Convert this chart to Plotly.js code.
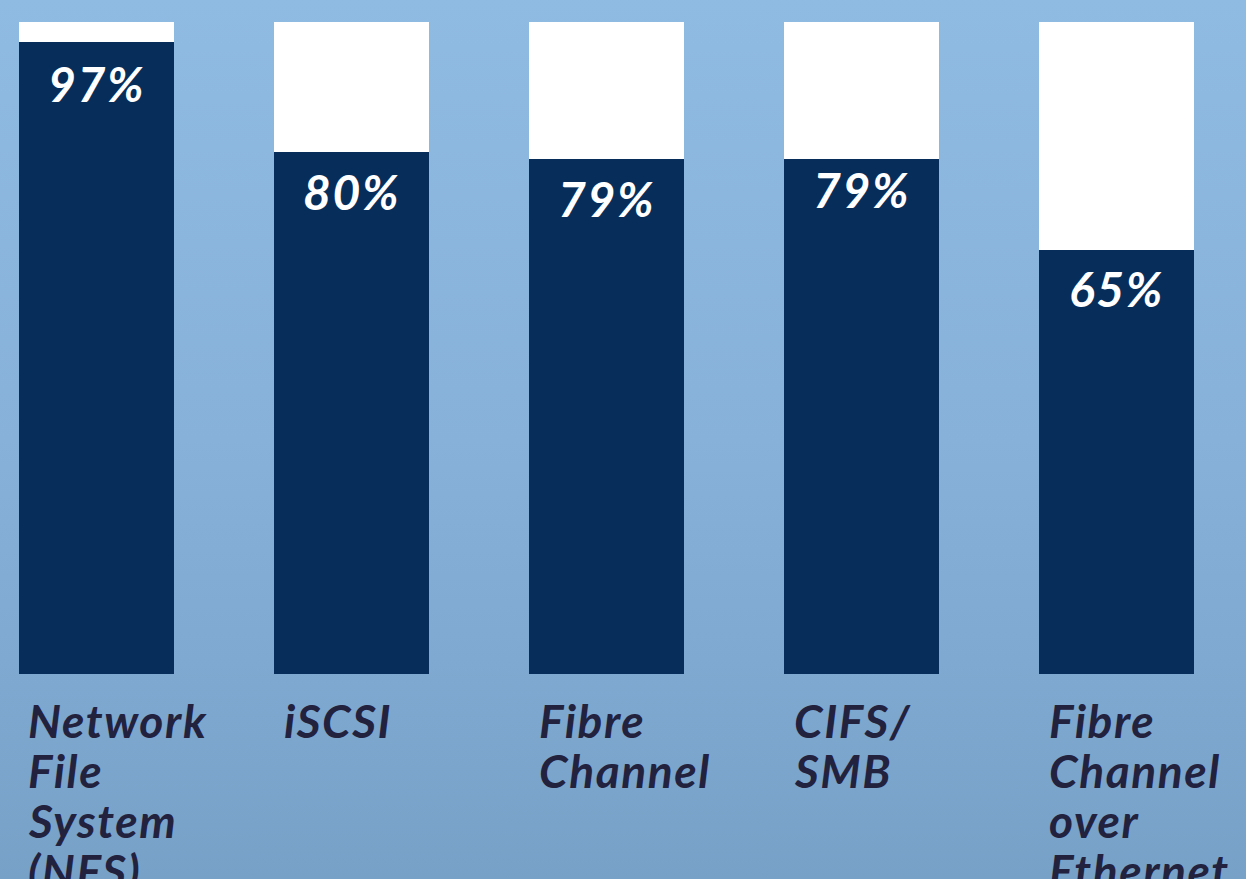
<!DOCTYPE html>
<html>
<head>
<meta charset="utf-8">
<script src="https://cdn.plot.ly/plotly-3.0.1.min.js"></script>
<style>
  html, body { margin:0; padding:0; }
  body { width:1246px; height:879px; overflow:hidden;
         background: linear-gradient(to bottom, #8fbae2 0%, #87b1d9 50%, #77a1c7 100%); }
  #chart { width:1246px; height:879px; }
  .annotation-text { letter-spacing: 1.6px; }
</style>
</head>
<body>
<div id="chart"></div>
<script>
const categories = ['Network<br>File<br>System<br>(NFS)', 'iSCSI', 'Fibre<br>Channel', 'CIFS/<br>SMB', 'Fibre<br>Channel<br>over<br>Ethernet'];
const values = [97, 80, 79, 79, 65];
const valueLabels = ['97%', '80%', '79%', '79%', '65%'];

// style only: vertical offset (px) of each value label below its bar top
const labelShift = [-42, -39, -40, -31, -38];

const xs = categories.map((c, i) => i);
const remainder = values.map(v => 100 - v);

const barColor = '#072e5b';
const textFont = 'Lato, "Open Sans", sans-serif';

const traces = [
  { type: 'bar', x: xs, y: values, marker: { color: barColor, line: { width: 0 } },
    width: 0.608, hoverinfo: 'none' },
  { type: 'bar', x: xs, y: remainder, marker: { color: '#ffffff', line: { width: 0 } },
    width: 0.608, hoverinfo: 'none' }
];

const annotations = [];
values.forEach((v, i) => {
  annotations.push({
    x: xs[i], y: v, xref: 'x', yref: 'y', text: valueLabels[i], showarrow: false,
    xanchor: 'center', yanchor: 'middle', yshift: labelShift[i], xshift: 0,
    font: { family: textFont, size: 48, color: '#ffffff', weight: 'bold', style: 'italic' }
  });
});
categories.forEach((c, i) => {
  c.split('<br>').forEach((line, j) => {
    annotations.push({
      x: xs[i], y: 0, xref: 'x', yref: 'paper', text: line, showarrow: false,
      xanchor: 'left', yanchor: 'middle', xshift: -70, yshift: -46 - 50 * j,
      font: { family: textFont, size: 46, color: '#22213e', weight: 'bold', style: 'italic' }
    });
  });
});

const layout = {
  width: 1246, height: 879,
  margin: { l: 0, r: 0, t: 22, b: 205, pad: 0 },
  paper_bgcolor: 'rgba(0,0,0,0)', plot_bgcolor: 'rgba(0,0,0,0)',
  barmode: 'stack', showlegend: false,
  xaxis: { range: [-0.3784, 4.5078], showgrid: false, zeroline: false, showticklabels: false, showline: false, fixedrange: true },
  yaxis: { range: [0, 100], showgrid: false, zeroline: false, showticklabels: false, showline: false, fixedrange: true },
  annotations: annotations
};

Plotly.newPlot('chart', traces, layout, { displayModeBar: false, staticPlot: true });
</script>
</body>
</html>
